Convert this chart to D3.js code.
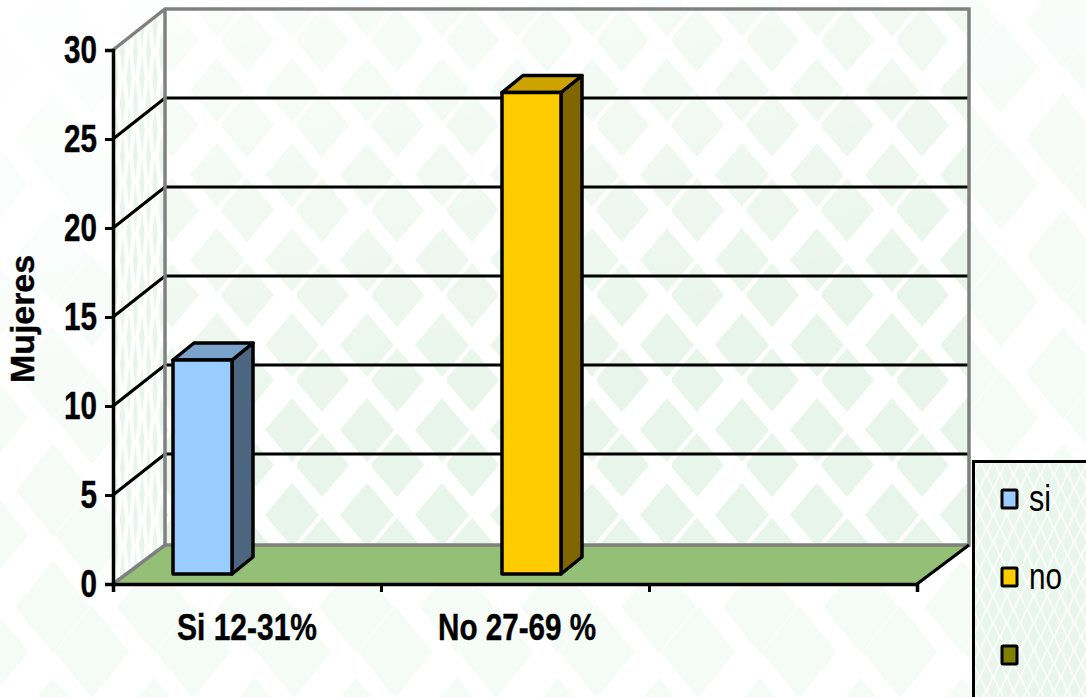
<!DOCTYPE html>
<html><head><meta charset="utf-8">
<style>html,body{margin:0;padding:0;background:#fff}svg{display:block}</style>
<script src="https://cdn.jsdelivr.net/npm/d3@7/dist/d3.min.js"></script>
</head><body><svg id="c" width="1086" height="697"></svg>
<script>
const categories = ["Si 12-31%", "No 27-69 %", ""];
const seriesNames = ["si", "no", ""];
const siValues = [12, 0, 0];
const noValues = [0, 27, 0];
const thirdValues = [0, 0, 0];
const yTicks = [0, 5, 10, 15, 20, 25, 30];
const frontColors = ["#99CCFF", "#FFCC00", "#808000"];
const topColors = ["#7AA3CC", "#CCA300", "#666600"];
const sideColors = ["#4D6680", "#806600", "#404000"];

const svg = d3.select("#c");
const font = "'Liberation Sans', Arial, sans-serif";
const defs = svg.append("defs");

function diamondPath(cx, cy, hw, hh) {
  return `M${cx-hw},${cy}L${cx},${cy-hh}L${cx+hw},${cy}L${cx},${cy+hh}Z`;
}
function tile(id, w, h, ox, oy, fill, diamonds) {
  const p = defs.append("pattern").attr("id", id).attr("patternUnits", "userSpaceOnUse")
    .attr("width", w).attr("height", h).attr("x", ox).attr("y", oy);
  p.append("rect").attr("width", w).attr("height", h).attr("fill", "#fff");
  diamonds.forEach(d => p.append("path").attr("d", diamondPath(...d)).attr("fill", fill));
}
tile("bgTile", 101, 117, 3, 80, "#f5fbf7", [[50,59,37,46],[89,104,37,46],[89,-13,37,46],[-12,104,37,46],[-12,-13,37,46]]);
tile("wallTile", 75, 85, -3, 12, "#e8f5ea", [[25,28,27,32],[70,78,27,32],[-5,78,27,32],[70,-7,27,32],[-5,-7,27,32],[25,113,27,32]]);
tile("sideTile", 13, 52, 113, 0, "#e8f5ec", [[3,26,2.6,24],[9.5,0,2.6,24],[9.5,52,2.6,24]]);
tile("legendTile", 13.5, 27, 973, 461, "#e9f6ec", [[6.75,13.5,5.5,12.5],[0,0,5.5,12.5],[13.5,0,5.5,12.5],[0,27,5.5,12.5],[13.5,27,5.5,12.5]]);

const fade = defs.append("linearGradient").attr("id", "fade")
  .attr("gradientUnits", "userSpaceOnUse").attr("x1", 0).attr("y1", 0).attr("x2", 150).attr("y2", 520);
fade.append("stop").attr("offset", 0).attr("stop-color", "#fff").attr("stop-opacity", .9);
fade.append("stop").attr("offset", 1).attr("stop-color", "#fff").attr("stop-opacity", 0);

const X0 = 113, X1 = 917, DX = 52;
const xBand = d3.scaleBand().domain(d3.range(categories.length)).range([X0, X1]);
const barW = 59, barStep = 61;
const xSeries = d3.scaleBand().domain(d3.range(seriesNames.length))
  .range([(xBand.bandwidth() - barStep * 3) / 2, (xBand.bandwidth() + barStep * 3) / 2]);
const yFront = d3.scaleLinear().domain([0, 30]).range([584, 50]);
const yBack = d3.scaleLinear().domain([0, 30]).range([543, 9]);
const yBar = d3.scaleLinear().domain([0, 30]).range([574, 39]);
const barShift = 17.5, barDX = 21, barDY = -17;
const GRID_BOTTOM = 545;

svg.append("rect").attr("width", 1086).attr("height", 697).attr("fill", "url(#bgTile)");
svg.append("rect").attr("width", 1086).attr("height", 697).attr("fill", "url(#fade)");
svg.append("rect").attr("x", X0 + DX).attr("y", yBack(30)).attr("width", X1 - X0).attr("height", GRID_BOTTOM - yBack(30)).attr("fill", "url(#wallTile)");
svg.append("rect").attr("x", X0 + DX).attr("y", yBack(30)).attr("width", X1 - X0).attr("height", GRID_BOTTOM - yBack(30)).attr("fill", "url(#fade)");
svg.append("path").attr("d", `M${X0},${yFront(30)}L${X0+DX},${yBack(30)}L${X0+DX},${GRID_BOTTOM}L${X0},${yFront(0)}Z`).attr("fill", "url(#sideTile)");

svg.append("path").attr("d", `M${X0},${yFront(0)}L${X1},${yFront(0)}L${X1+DX},${GRID_BOTTOM}L${X0+DX},${GRID_BOTTOM}Z`).attr("fill", "#93BF76");

svg.append("g").selectAll("path").data(yTicks.filter(v => v > 0 && v < 30)).join("path")
  .attr("d", v => `M${X0},${yFront(v)}L${X0+DX},${yBack(v)}L${X1+DX},${yBack(v)}`)
  .attr("fill", "none").attr("stroke", "#000").attr("stroke-width", 3.2);

svg.append("path")
  .attr("d", `M${X0},${yFront(30)}L${X0+DX},${yBack(30)}L${X1+DX},${yBack(30)}L${X1+DX},${GRID_BOTTOM}L${X0+DX},${GRID_BOTTOM}L${X0},${yFront(0)}M${X0+DX},${yBack(30)}L${X0+DX},${GRID_BOTTOM}`)
  .attr("fill", "none").attr("stroke", "#808080").attr("stroke-width", 3.5);
svg.append("path").attr("d", `M${X1},${yFront(0)}L${X1+DX},${GRID_BOTTOM}`).attr("stroke", "#000").attr("stroke-width", 3.2);

const axisLeft = d3.axisLeft(yFront).tickValues(yTicks).tickSize(8).tickPadding(8).tickFormat(d3.format("d"));
const gy = svg.append("g").attr("transform", `translate(${X0},0)`).call(axisLeft);
const xPos = d3.scaleLinear().domain([0, categories.length]).range([X0, X1]);
const axisBottom = d3.axisBottom(xPos).tickValues(d3.range(categories.length + 1)).tickSize(8).tickFormat("");
const gx = svg.append("g").attr("transform", `translate(0,${yFront(0)})`).call(axisBottom);
[gx, gy].forEach(g => {
  g.select(".domain").attr("stroke", "#000").attr("stroke-width", 3.5);
  g.selectAll(".tick line").attr("stroke", "#000").attr("stroke-width", 3);
});
gy.selectAll("text").attr("font-family", font).attr("font-weight", "bold").attr("font-size", 38).attr("fill", "#000")
  .attr("stroke", "#000").attr("stroke-width", .4)
  .attr("dy", ".34em").attr("textLength", d => String(d).length * 16.5).attr("lengthAdjust", "spacingAndGlyphs");

const catWidths = [140, 158, 0];
svg.append("g").selectAll("text").data(categories).join("text")
  .attr("x", (d, i) => xBand(i) + xBand.bandwidth() / 2 + (i === 1 ? 2 : 0))
  .attr("y", 640).attr("text-anchor", "middle").attr("font-family", font)
  .attr("font-weight", "bold").attr("font-size", 37).attr("fill", "#000")
  .attr("stroke", "#000").attr("stroke-width", .4)
  .attr("textLength", (d, i) => catWidths[i] || null).attr("lengthAdjust", "spacingAndGlyphs")
  .text(d => d);

svg.append("text").attr("transform", "translate(33.5,319) rotate(-90)").attr("text-anchor", "middle")
  .attr("font-family", font).attr("font-weight", "bold").attr("font-size", 33).attr("fill", "#000")
  .attr("stroke", "#000").attr("stroke-width", .4)
  .attr("textLength", 128).attr("lengthAdjust", "spacingAndGlyphs").text("Mujeres");

const barData = [];
[siValues, noValues, thirdValues].forEach((vals, s) => vals.forEach((v, c) => { if (v > 0) barData.push({ s, c, v }); }));
const bars = svg.append("g").selectAll("g").data(barData).join("g")
  .attr("stroke", "#000").attr("stroke-width", 3.5).attr("stroke-linejoin", "round");
const bx = d => xBand(d.c) + xSeries(d.s) + barShift;
bars.append("path").attr("fill", d => sideColors[d.s])
  .attr("d", d => `M${bx(d)+barW},${yBar(d.v)}L${bx(d)+barW+barDX},${yBar(d.v)+barDY}L${bx(d)+barW+barDX},${yBar(0)+barDY}L${bx(d)+barW},${yBar(0)}Z`);
bars.append("path").attr("fill", d => topColors[d.s])
  .attr("d", d => `M${bx(d)},${yBar(d.v)}L${bx(d)+barDX},${yBar(d.v)+barDY}L${bx(d)+barW+barDX},${yBar(d.v)+barDY}L${bx(d)+barW},${yBar(d.v)}Z`);
bars.append("rect").attr("fill", d => frontColors[d.s])
  .attr("x", bx).attr("y", d => yBar(d.v)).attr("width", barW).attr("height", d => yBar(0) - yBar(d.v));

const legend = svg.append("g");
legend.append("rect").attr("x", 973.5).attr("y", 461.5).attr("width", 130).attr("height", 260)
  .attr("fill", "url(#legendTile)").attr("stroke", "#000").attr("stroke-width", 3);
const legendY = d3.scalePoint().domain(d3.range(seriesNames.length)).range([499, 655]);
legend.selectAll("rect.sw").data(seriesNames).join("rect").attr("class", "sw")
  .attr("x", 1002).attr("y", (d, i) => legendY(i) - 9).attr("width", 15).attr("height", 18)
  .attr("fill", (d, i) => frontColors[i]).attr("stroke", "#000").attr("stroke-width", 3).attr("rx", 1);
const legendWidths = [22, 33, 0];
legend.selectAll("text").data(seriesNames).join("text")
  .attr("x", 1029).attr("y", (d, i) => legendY(i) + 12)
  .attr("font-family", font).attr("font-size", 37).attr("fill", "#000")
  .attr("textLength", (d, i) => legendWidths[i] || null).attr("lengthAdjust", "spacingAndGlyphs")
  .text(d => d);
</script></body></html>
